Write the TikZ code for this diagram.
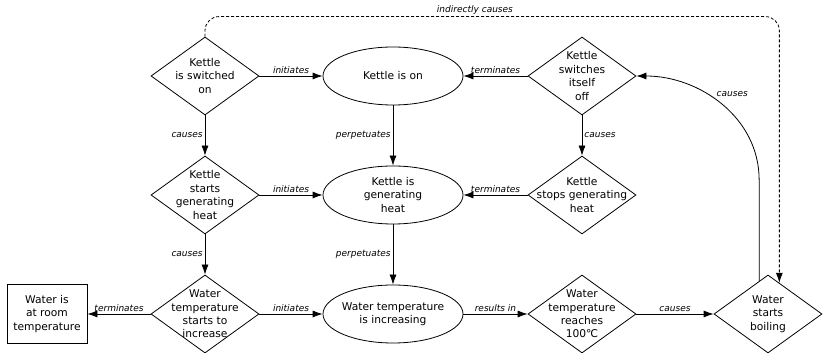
\documentclass[tikz,border=0pt]{standalone}
\usepackage{fontspec}
\setmainfont{DejaVu Sans}
\usepackage{tikz}
\usetikzlibrary{shapes.geometric}
\usetikzlibrary{arrows.meta}
\newcommand{\boxFont}{\fontsize{10.7}{13.4}\selectfont}
\newcommand{\edgeFont}{\fontsize{9}{10.5}\selectfont\itshape}

\begin{document}
\begin{tikzpicture}[x=1pt, y=1pt, every label/.style={align=center, font=\boxFont, inner sep=0pt}]

          \tikzstyle{eventNode} = [diamond, draw, line width=0.8pt, minimum width=108pt, minimum height=78pt, inner sep=0pt];
          \tikzstyle{fluentNode} = [ellipse, draw, line width=0.8pt, minimum width=140pt, minimum height=58pt, inner sep=0pt];
          \tikzstyle{stateNode} = [rectangle, draw, line width=0.8pt, minimum width=80pt, minimum height=59pt, align=center, font=\boxFont];

          \tikzstyle{causalEdge} = [line width=0.8pt, -{Latex[length=10pt,width=7pt]}];
          \tikzstyle{indirectEdge} = [line width=0.8pt, dash pattern=on 3pt off 2pt, rounded corners=14pt, -{Latex[length=10pt,width=7pt]}];
          \tikzstyle{edgeLabel} = [font=\edgeFont, inner sep=2pt];

          \useasboundingbox (0,0) rectangle (823,353);

          \node[eventNode, label={center:Kettle\\is switched\\on}] (switchOn) at (205,277) {};
          \node[fluentNode, label={center:Kettle is on}] (kettleOn) at (393,277) {};
          \node[eventNode, label={center:Kettle\\switches\\itself\\off}] (switchOff) at (582,277) {};

          \node[eventNode, label={center:Kettle\\starts\\generating\\heat}] (startHeat) at (205,158) {};
          \node[fluentNode, label={center:Kettle is\\generating\\heat}] (generatingHeat) at (393,158) {};
          \node[eventNode, label={center:Kettle\\stops generating\\heat}] (stopHeat) at (582,158) {};

          \node[stateNode] (roomTemp) at (47,39) {Water is\\at room\\temperature};
          \node[eventNode, label={center:Water\\temperature\\starts to\\increase}] (startIncrease) at (205,39) {};
          \node[fluentNode, label={center:Water temperature\\is increasing}] (increasing) at (393,39) {};
          \node[eventNode, label={center:Water\\temperature\\reaches\\100℃}] (reaches100) at (582,39) {};
          \node[eventNode, label={center:Water\\starts\\boiling}] (boiling) at (768,39) {};

          \draw[causalEdge] (switchOn) -- node[edgeLabel, above] {initiates} (kettleOn);
          \draw[causalEdge] (switchOff) -- node[edgeLabel, above] {terminates} (kettleOn);
          \draw[causalEdge] (switchOn) -- node[edgeLabel, left] {causes} (startHeat);
          \draw[causalEdge] (kettleOn) -- node[edgeLabel, left] {perpetuates} (generatingHeat);
          \draw[causalEdge] (switchOff) -- node[edgeLabel, right] {causes} (stopHeat);

          \draw[causalEdge] (startHeat) -- node[edgeLabel, above] {initiates} (generatingHeat);
          \draw[causalEdge] (stopHeat) -- node[edgeLabel, above] {terminates} (generatingHeat);
          \draw[causalEdge] (startHeat) -- node[edgeLabel, left] {causes} (startIncrease);
          \draw[causalEdge] (generatingHeat) -- node[edgeLabel, left] {perpetuates} (increasing);

          \draw[causalEdge] (startIncrease) -- node[edgeLabel, above] {terminates} (roomTemp);
          \draw[causalEdge] (startIncrease) -- node[edgeLabel, above] {initiates} (increasing);
          \draw[causalEdge] (increasing) -- node[edgeLabel, above] {results in} (reaches100);
          \draw[causalEdge] (reaches100) -- node[edgeLabel, above] {causes} (boiling);

          \draw[causalEdge] (boiling.105) -- ++(0,101) to[out=90, in=0] node[edgeLabel, pos=0.55, above right] {causes} (switchOff);
          \draw[indirectEdge] (switchOn.north) -- ++(0,20) -| node[edgeLabel, pos=0.235, above] {indirectly causes} (boiling.70);
        \end{tikzpicture}
\end{document}
